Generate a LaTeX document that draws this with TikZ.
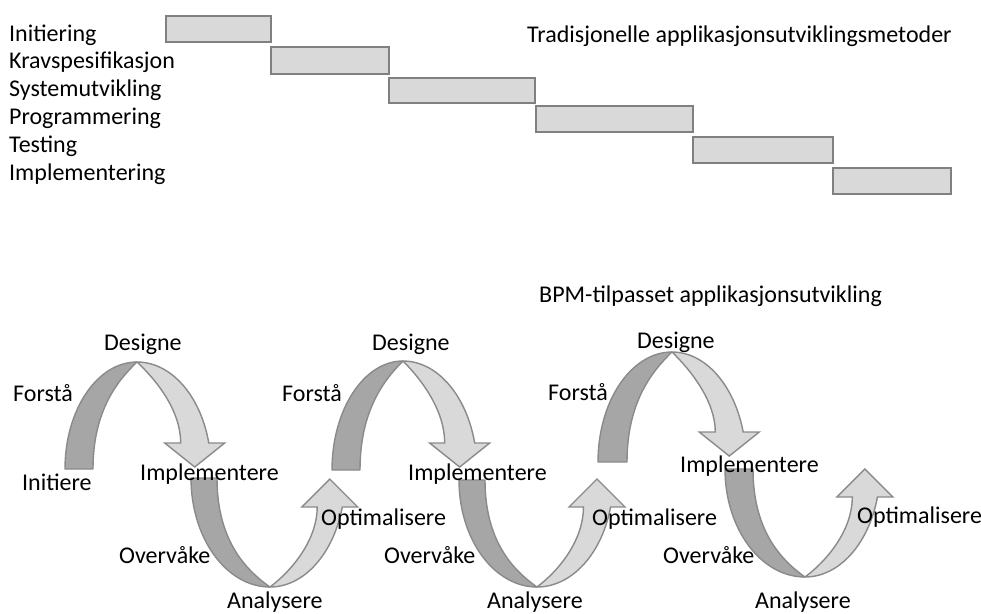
\documentclass[tikz,border=0pt]{standalone}
\usepackage{fontspec}
\setmainfont{Carlito}
\definecolor{barfill}{HTML}{D9D9D9}
\definecolor{barline}{HTML}{808080}
\definecolor{loopdark}{HTML}{A6A6A6}
\definecolor{looplight}{HTML}{D9D9D9}
\definecolor{loopline}{HTML}{8A8A8A}

% Upper half-loop: dark rising ribbon on the left, light falling arrow on the right.
% #1 centre x, #2 base y, #3 height, #4/#5 outer/inner radius left,
% #6/#7 outer/inner radius right, #8 height of the arrow-head base above the base line
\newcommand{\toploop}[8]{%
  \pgfmathsetmacro{\lpAng}{360-asin(#8/#3)}%
  \pgfmathsetmacro{\lpXo}{#1+#6*cos(\lpAng)}%
  \pgfmathsetmacro{\lpXi}{#1+#7*cos(\lpAng)}%
  \pgfmathsetmacro{\lpHc}{(\lpXo+\lpXi)/2}%
  \pgfmathsetmacro{\lpYh}{#2-#8}%
  \path[back] (#1-#4,#2)
    arc[start angle=180,end angle=270,x radius=#4,y radius=#3]
    .. controls (#1-0.43*#5,#2-0.83*#3) and (#1-#5,#2-0.55*#3) .. (#1-#5,#2) -- cycle;
  \path[front] (#1,#2-#3)
    arc[start angle=270,end angle=\lpAng,x radius=#6,y radius=#3]
    -- (\lpHc+30,\lpYh) -- (\lpHc,\lpYh+24) -- (\lpHc-30,\lpYh) -- (\lpXi,\lpYh)
    .. controls (\lpXi,#2-0.55*#3) and (#1+0.43*#7,#2-0.83*#3) .. (#1,#2-#3) -- cycle;
}
% Lower half-loop: dark falling ribbon on the left, light rising arrow on the right.
% #1 centre x, #2 top y, #3 depth, #4/#5 outer/inner radius left,
% #6/#7 outer/inner radius right, #8 depth of the arrow-head base below the top line
\newcommand{\bottomloop}[8]{%
  \pgfmathsetmacro{\lpAng}{asin(#8/#3)}%
  \pgfmathsetmacro{\lpXo}{#1+#6*cos(\lpAng)}%
  \pgfmathsetmacro{\lpXi}{#1+#7*cos(\lpAng)}%
  \pgfmathsetmacro{\lpHc}{(\lpXo+\lpXi)/2}%
  \pgfmathsetmacro{\lpYh}{#2+#8}%
  \path[back] (#1-#4,#2)
    arc[start angle=180,end angle=90,x radius=#4,y radius=#3]
    .. controls (#1-0.5*#5,#2+0.83*#3) and (#1-#5,#2+0.55*#3) .. (#1-#5,#2) -- cycle;
  \path[front] (#1,#2+#3)
    arc[start angle=90,end angle=\lpAng,x radius=#6,y radius=#3]
    -- (\lpHc+28,\lpYh) -- (\lpHc,\lpYh-28) -- (\lpHc-28,\lpYh) -- (\lpXi,\lpYh)
    .. controls (\lpXi,#2+0.55*#3) and (#1+0.5*#7,#2+0.83*#3) .. (#1,#2+#3) -- cycle;
}

\begin{document}
\begin{tikzpicture}[x=1pt,y=-1pt,
  lbl/.style={anchor=base west,inner sep=0pt,font=\fontsize{24}{28}\selectfont},
  bar/.style={draw=barline,fill=barfill,line width=1.6pt,anchor=north west,inner sep=0pt},
  back/.style={fill=loopdark,draw=loopline,line width=1.4pt,line join=round},
  front/.style={fill=looplight,draw=loopline,line width=1.4pt,line join=miter}]
\useasboundingbox (0,0) rectangle (981,613);

% Traditional phase plan
\node[lbl] (tInit) at (9,41) {Initiering};
\node[lbl] (tKrav) at (9,68.5) {Kravspesifikasjon};
\node[lbl] (tSys)  at (9,96.5) {Systemutvikling};
\node[lbl] (tProg) at (9,124) {Programmering};
\node[lbl] (tTest) at (9,152) {Testing};
\node[lbl] (tImpl) at (9,180) {Implementering};
\node[lbl] (tTitle) at (527,42) {Tradisjonelle applikasjonsutviklingsmetoder};

\node[bar,minimum width=105pt,minimum height=26pt] (bar1) at (165,15) {};
\node[bar,minimum width=118pt,minimum height=27pt] (bar2) at (270,46) {};
\node[bar,minimum width=146pt,minimum height=25pt] (bar3) at (388,77) {};
\node[bar,minimum width=157pt,minimum height=26pt] (bar4) at (535,105) {};
\node[bar,minimum width=140pt,minimum height=26pt] (bar5) at (692,136) {};
\node[bar,minimum width=118pt,minimum height=26pt] (bar6) at (832,167) {};

% BPM cycles
\node[lbl] (bTitle) at (539,302) {BPM-tilpasset applikasjonsutvikling};

\toploop{137}{469}{107}{72}{44}{74}{45}{26}
\bottomloop{270}{478}{109}{79}{53}{75}{49}{29}
\toploop{403}{470}{109}{71}{43}{74}{43}{27}
\bottomloop{537}{480}{107}{78}{52}{76}{48}{27}
\toploop{672}{462}{110}{74}{45}{74}{45}{30}
\bottomloop{805}{469}{108}{80}{52}{75}{49}{28}

% cycle 1
\node[lbl] (c1Des) at (104,350) {Designe};
\node[lbl] (c1For) at (13,401) {Forstå};
\node[lbl] (c1Ini) at (22,490) {Initiere};
\node[lbl] (c1Imp) at (140,480) {Implementere};
\node[lbl] (c1Ove) at (119,563) {Overvåke};
\node[lbl] (c1Ana) at (227,608) {Analysere};
\node[lbl] (c1Opt) at (321,525) {Optimalisere};
% cycle 2
\node[lbl] (c2For) at (282,401) {Forstå};
\node[lbl] (c2Des) at (372,350) {Designe};
\node[lbl] (c2Imp) at (408,480) {Implementere};
\node[lbl] (c2Ove) at (384,563) {Overvåke};
\node[lbl] (c2Ana) at (487,608) {Analysere};
\node[lbl] (c2Opt) at (592,525) {Optimalisere};
% cycle 3
\node[lbl] (c3For) at (548,400) {Forstå};
\node[lbl] (c3Des) at (637,348) {Designe};
\node[lbl] (c3Imp) at (680,472) {Implementere};
\node[lbl] (c3Ove) at (663,563) {Overvåke};
\node[lbl] (c3Ana) at (755,608) {Analysere};
\node[lbl] (c3Opt) at (857,523) {Optimalisere};
\end{tikzpicture}
\end{document}
